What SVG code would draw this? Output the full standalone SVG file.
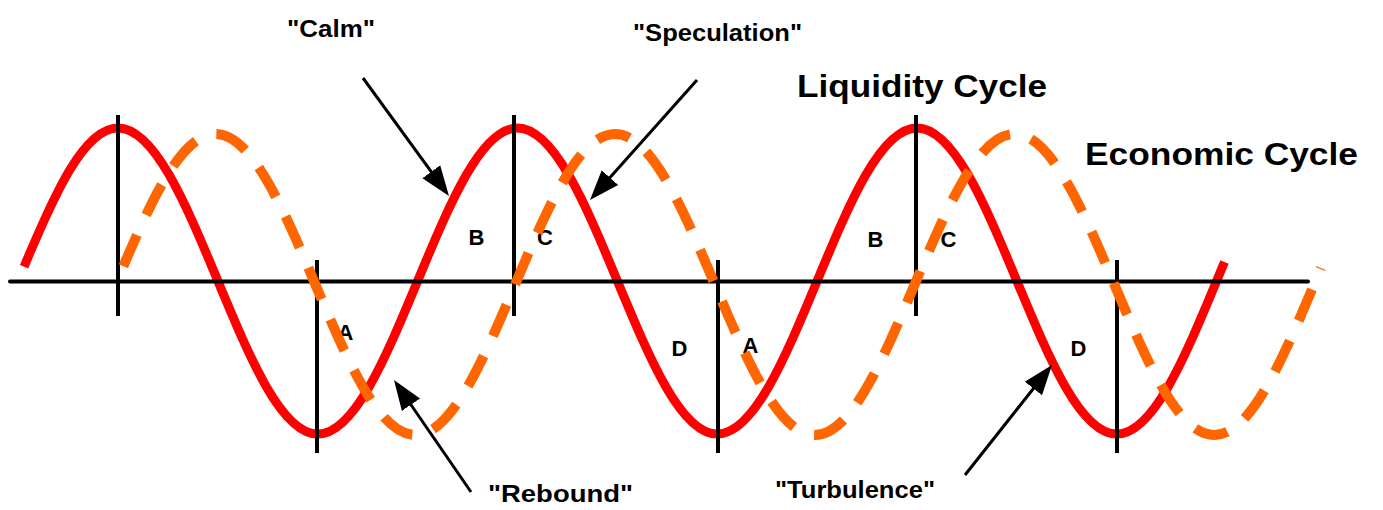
<svg xmlns="http://www.w3.org/2000/svg" width="1383" height="510" viewBox="0 0 1383 510">
<style>
.t{font-family:"Liberation Sans",Arial,sans-serif;font-weight:bold;fill:#000}
.lbl{font-size:22px;text-anchor:middle}
.cap{font-size:24px}
.big{font-size:31px}
.ax{stroke:#000;stroke-width:4;fill:none}
.arr{stroke:#000;stroke-width:3;fill:none;marker-end:url(#ah)}
</style>
<defs>
<marker id="ah" markerUnits="userSpaceOnUse" markerWidth="32" markerHeight="24" viewBox="0 -12 32 24" refX="10" refY="0" orient="auto">
<path d="M0,-11 L30,0 L0,11 Z" fill="#000"/>
</marker>
</defs>
<rect width="1383" height="510" fill="#fff"/>
<g id="labels">
<text class="t lbl" x="476.5" y="245">B</text>
<text class="t lbl" x="545" y="245">C</text>
<text class="t lbl" x="345.5" y="340">A</text>
<text class="t lbl" x="679.5" y="356">D</text>
<text class="t lbl" x="750.5" y="353">A</text>
<text class="t lbl" x="875.5" y="247">B</text>
<text class="t lbl" x="948.5" y="247">C</text>
<text class="t lbl" x="1078.5" y="356">D</text>
</g>
<g id="liquidity-wave">
<path fill="none" stroke="#ff0000" stroke-width="9" stroke-dasharray="3000 20" stroke-dashoffset="-15.4" d="M18.125,281 C50.69,202.6 81.85,128 118,128 C154.16,128 185.31,202.6 217.875,281 C250.44,359.4 281.6,434 317.75,434 C353.91,434 385.06,359.4 417.625,281 C450.19,202.6 481.35,128 517.5,128 C553.66,128 584.81,202.6 617.375,281 C649.94,359.4 681.1,434 717.25,434 C753.41,434 784.56,359.4 817.125,281 C849.69,202.6 880.85,128 917,128 C953.16,128 984.31,202.6 1016.875,281 C1049.44,359.4 1080.6,434 1116.75,434 C1152.91,434 1184.06,359.4 1216.625,281 L1224.5,262"/>
</g>
<g id="axes">
<line class="ax" x1="10" y1="281.5" x2="1308" y2="281.5" stroke-linecap="round"/>
<line class="ax" x1="118" y1="115" x2="118" y2="316"/>
<line class="ax" x1="317" y1="260" x2="317" y2="453"/>
<line class="ax" x1="514" y1="115" x2="514" y2="316"/>
<line class="ax" x1="718" y1="260" x2="718" y2="453"/>
<line class="ax" x1="916" y1="115" x2="916" y2="316"/>
<line class="ax" x1="1117" y1="260" x2="1117" y2="453"/>
</g>
<g id="economic-wave">
<path fill="none" stroke="#ff6600" stroke-width="10" stroke-dasharray="34 22" stroke-dashoffset="-19.8" d="M115.625,284.5 C148.19,207.4 179.35,134 215.5,134 C251.66,134 282.81,207.4 315.375,284.5 C347.94,361.6 379.1,435 415.25,435 C451.41,435 482.56,361.6 515.125,284.5 C547.69,207.4 578.85,134 615,134 C651.16,134 682.31,207.4 714.875,284.5 C747.44,361.6 778.6,435 814.75,435 C850.91,435 882.06,361.6 914.625,284.5 C947.19,207.4 978.35,134 1014.5,134 C1050.66,134 1081.81,207.4 1114.375,284.5 C1146.94,361.6 1178.1,435 1214.25,435 C1250.41,435 1281.56,361.6 1314.125,284.5 L1321,268"/>
</g>
<g id="connectors">
<line class="arr" x1="363" y1="78" x2="437.2" y2="179.8"/>
<line class="arr" x1="697" y1="80" x2="603.3" y2="185.1"/>
<line class="arr" x1="471" y1="492" x2="405.3" y2="396.5"/>
<line class="arr" x1="965" y1="475" x2="1039.6" y2="380.7"/>
</g>
<g id="titles">
<text class="t cap" x="287" y="37" textLength="88" lengthAdjust="spacingAndGlyphs">"Calm"</text>
<text class="t cap" x="633" y="41" textLength="169" lengthAdjust="spacingAndGlyphs">"Speculation"</text>
<text class="t big" x="797" y="97" textLength="250" lengthAdjust="spacingAndGlyphs">Liquidity Cycle</text>
<text class="t big" x="1085" y="165" textLength="273" lengthAdjust="spacingAndGlyphs">Economic Cycle</text>
<text class="t cap" x="488" y="502" textLength="145" lengthAdjust="spacingAndGlyphs">"Rebound"</text>
<text class="t cap" x="775" y="498" textLength="160" lengthAdjust="spacingAndGlyphs">"Turbulence"</text>
</g>
</svg>
